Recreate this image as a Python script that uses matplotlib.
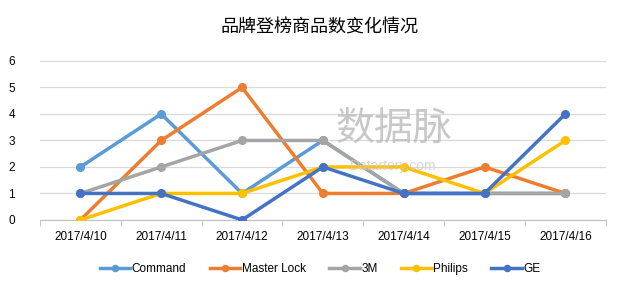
import matplotlib
matplotlib.use('Agg')
from matplotlib import pyplot as plt

plt.rcParams['font.family'] = ['Liberation Sans', 'Noto Sans CJK SC', 'DejaVu Sans']

dates = ['2017/4/10', '2017/4/11', '2017/4/12', '2017/4/13', '2017/4/14', '2017/4/15', '2017/4/16']
command = [2, 4, 1, 3, 1, 1, 1]
master_lock = [0, 3, 5, 1, 1, 2, 1]
m3 = [1, 2, 3, 3, 1, 1, 1]
philips = [0, 1, 1, 2, 2, 1, 3]
ge = [1, 1, 0, 2, 1, 1, 4]

series = [('Command', command, '#5B9BD5'),
          ('Master Lock', master_lock, '#ED7D31'),
          ('3M', m3, '#A5A5A5'),
          ('Philips', philips, '#FFC000'),
          ('GE', ge, '#4472C4')]

fig = plt.figure(figsize=(6.4, 2.89), dpi=100)
ax = fig.add_axes([0.0625, 0.239, 0.884, 0.55])

x = list(range(len(dates)))
for name, vals, col in series:
    ax.plot(x, vals, color=col, lw=2.5, marker='o', ms=5.5, label=name, zorder=3)

ax.set_xlim(-0.5, len(dates) - 0.5)
ax.set_ylim(0, 6)
ax.set_yticks(range(0, 7))
ax.set_xticks(x)
ax.set_xticklabels(dates)
ax.set_xticks([i - 0.5 for i in range(len(dates) + 1)], minor=True)
ax.tick_params(axis='x', which='major', length=0, pad=8, labelsize=8.5)
ax.tick_params(axis='x', which='minor', length=4, color='#BFBFBF')
ax.tick_params(axis='y', length=0, pad=18, labelsize=8.5)
ax.grid(axis='y', color='#D9D9D9', lw=0.9, zorder=0)
for s in ['top', 'right', 'left']:
    ax.spines[s].set_visible(False)
ax.spines['bottom'].set_color('#BFBFBF')

# watermark
fig.text(0.615, 0.55, '数据脉', fontsize=28, color='#BBBBBB', alpha=0.8,
         family=['Noto Sans CJK SC'], ha='center', va='center', zorder=0)
fig.text(0.615, 0.425, 'Datartery.com', fontsize=10, color='#CCCCCC', alpha=0.8,
         ha='center', va='center', zorder=0)

fig.text(0.5, 0.905, '品牌登榜商品数变化情况', fontsize=13, ha='center', va='center',
         family=['Noto Sans CJK SC'])

fig.legend(loc='center', bbox_to_anchor=(0.5, 0.07), ncol=5, frameon=False,
           fontsize=8.5, handlelength=2.6, columnspacing=2.0, handletextpad=0.1,
           markerscale=0.8)

plt.savefig('out.png', dpi=100)
